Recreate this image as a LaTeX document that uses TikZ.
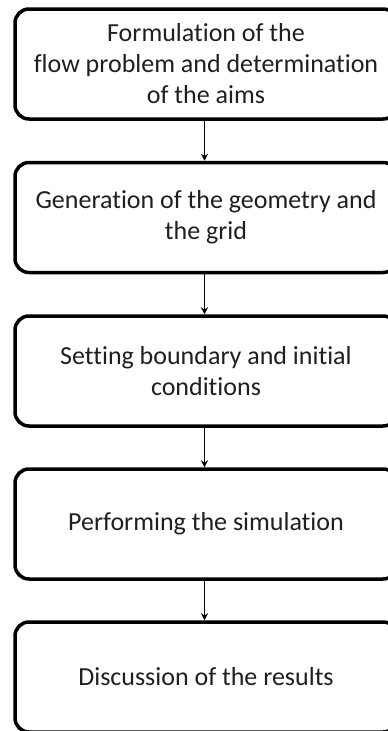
\documentclass[tikz,border=0pt]{standalone}
\usepackage{fontspec}
\setmainfont{Carlito}[Ligatures=NoCommon]
\usetikzlibrary{arrows.meta}
\begin{document}
\begin{tikzpicture}[x=1pt,y=1pt,
  stepbox/.style={draw=black, line width=3.5pt, rounded corners=14pt,
    minimum width=382pt, minimum height=110pt, align=center,
    font=\fontsize{26}{31}\selectfont, text=black!88, inner sep=0pt},
  flow/.style={line width=1.9pt, -{Stealth[length=7pt,width=7pt]}}]
\useasboundingbox (0,0) rectangle (388,-731);
\node[stepbox] (s1) at (206,-64) {Formulation of the\\flow problem and determination\\of the aims};
\node[stepbox] (s2) at (206,-217.5) {Generation of the geometry and\\the grid};
\node[stepbox] (s3) at (206,-371) {Setting boundary and initial\\conditions};
\node[stepbox] (s4) at (206,-524) {Performing the simulation};
\node[stepbox] (s5) at (206,-677) {Discussion of the results};
\draw[flow] (s1.south -| 204.5,0) -- (s2.north -| 204.5,0);
\draw[flow] (s2.south -| 204.5,0) -- (s3.north -| 204.5,0);
\draw[flow] (s3.south -| 204.5,0) -- (s4.north -| 204.5,0);
\draw[flow] (s4.south -| 204.5,0) -- (s5.north -| 204.5,0);
\end{tikzpicture}
\end{document}
